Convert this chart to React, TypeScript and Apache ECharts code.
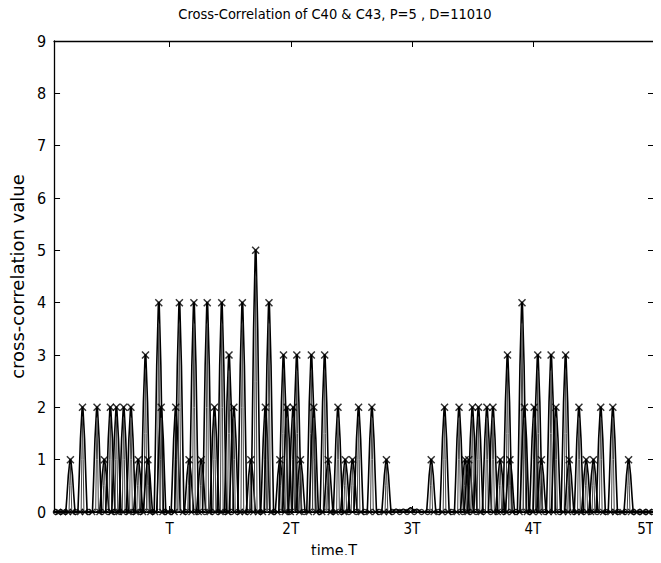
import React, { useEffect, useRef } from "react";
import * as echarts from "echarts";

const TITLE = "Cross-Correlation of C40 & C43, P=5 , D=11010";
const X_NAME = "time,T";
const Y_NAME = "cross-correlation value";
const X_MIN = 0.045;
const X_MAX = 5;
const X_TICKS = [1, 2, 3, 4, 5];
const X_TICK_LABELS = ["T", "2T", "3T", "4T", "5T"];
const Y_MIN = 0;
const Y_MAX = 9;

// [time in T, correlation value] at sample peaks (first group)
const peaksA: [number, number][] = [
  [0.18, 1], [0.28, 2], [0.4, 2], [0.46, 1], [0.51, 2], [0.56, 2], [0.62, 2], [0.68, 2],
  [0.74, 1], [0.8, 3], [0.82, 1], [0.91, 4], [0.93, 2], [1.05, 2], [1.08, 4], [1.16, 1],
  [1.2, 4], [1.26, 1], [1.31, 4], [1.37, 2], [1.43, 4], [1.49, 3], [1.53, 2], [1.6, 4],
  [1.67, 1], [1.71, 5], [1.79, 2], [1.82, 4], [1.91, 1], [1.94, 3], [1.97, 2], [2.02, 2],
  [2.05, 3], [2.08, 1], [2.17, 3], [2.19, 2], [2.28, 3], [2.31, 1], [2.39, 2], [2.45, 1],
  [2.51, 1], [2.56, 2], [2.67, 2], [2.79, 1],
];

// second group
const peaksB: [number, number][] = [
  [3.16, 1], [3.27, 2], [3.39, 2], [3.44, 1], [3.47, 1], [3.5, 2], [3.55, 2], [3.62, 2],
  [3.67, 2], [3.73, 1], [3.79, 3], [3.81, 1], [3.91, 4], [3.93, 2], [4.01, 2], [4.04, 3],
  [4.07, 1], [4.15, 3], [4.19, 2], [4.27, 3], [4.3, 1], [4.38, 2], [4.44, 1], [4.5, 1],
  [4.56, 2], [4.66, 2], [4.79, 1],
];

// tiny ripples between the groups
const smallBumps: [number, number][] = [
  [2.87, 0.05], [2.93, 0.05], [2.99, 0.08], [3.04, 0.05],
];

// zero-valued samples drawn as circles / crosses on the baseline
const zeroCircles = [
  0.06, 0.1, 0.14, 0.22, 0.33, 0.44, 0.49, 0.54, 0.59, 0.64, 0.7, 0.76, 0.86, 0.96, 1.01,
  1.13, 1.23, 1.29, 1.35, 1.4, 1.46, 1.51, 1.56, 1.64, 1.75, 1.86, 1.99, 2.11, 2.24, 2.35,
  2.42, 2.48, 2.54, 2.61, 2.73, 2.84, 2.9, 2.96, 3.02, 3.08, 3.13, 3.22, 3.33, 3.42, 3.48,
  3.53, 3.59, 3.65, 3.7, 3.76, 3.86, 3.97, 4.1, 4.22, 4.34, 4.42, 4.47, 4.53, 4.6, 4.7,
  4.76, 4.83, 4.88, 4.93, 4.98,
];
const zeroCrosses = [
  0.08, 0.12, 0.16, 0.2, 0.26, 0.3, 0.36, 0.42, 0.52, 0.58, 0.66, 0.72, 0.78, 0.84, 0.88,
  0.94, 0.99, 1.04, 1.11, 1.18, 1.24, 1.33, 1.42, 1.48, 1.58, 1.62, 1.69, 1.73, 1.77, 1.84,
  1.89, 1.95, 2.0, 2.07, 2.15, 2.21, 2.26, 2.33, 2.37, 2.44, 2.58, 2.65, 2.7, 2.77, 2.81,
  3.18, 3.25, 3.3, 3.37, 3.46, 3.57, 3.71, 3.78, 3.83, 3.89, 3.95, 4.0, 4.05, 4.13, 4.17,
  4.25, 4.29, 4.36, 4.4, 4.48, 4.58, 4.64, 4.68, 4.74, 4.81, 4.86, 4.91, 4.96,
];

const FONT_NARROW = '"Liberation Sans Narrow", "DejaVu Sans Condensed", "Liberation Sans", Arial, sans-serif';
const FONT_WIDE = '"DejaVu Sans", "Liberation Sans", Arial, sans-serif';
const CROSS = "path://M0,0L10,10M10,0L0,10";

export default function App() {
  const ref = useRef<HTMLDivElement>(null);
  useEffect(() => {
    if (!ref.current) return;
    const chart = echarts.init(ref.current, null, { renderer: "svg" });
    const spikeData = [...peaksA, ...peaksB, ...smallBumps];
    const axisLine = { show: true, onZero: false, lineStyle: { color: "#000", width: 1.3 } };
    chart.setOption({
      animation: false,
      backgroundColor: "#fff",
      title: {
        text: TITLE,
        left: 330,
        textAlign: "center",
        top: 1,
        textStyle: { fontFamily: FONT_NARROW, fontSize: 14.5, fontWeight: "normal", color: "#000" },
      },
      grid: { left: 53, right: 7, top: 41, bottom: 51 },
      xAxis: [
        {
          type: "value",
          position: "bottom",
          min: X_MIN,
          max: X_MAX,
          axisLine: { show: true, onZero: false, lineStyle: { color: "#000", width: 2 } },
          splitLine: { show: false },
          name: X_NAME,
          nameLocation: "middle",
          nameGap: 30,
          nameTextStyle: { fontFamily: FONT_NARROW, fontSize: 16, color: "#000", padding: [0, 40, 0, 0] },
          axisTick: { show: true, inside: true, length: 6, customValues: X_TICKS, lineStyle: { color: "#000" } },
          axisLabel: {
            show: true,
            customValues: X_TICKS,
            margin: 9,
            alignMaxLabel: "right",
            fontFamily: FONT_NARROW,
            fontSize: 15,
            color: "#000",
            formatter: (v: number) => X_TICK_LABELS[X_TICKS.indexOf(Math.round(v))] ?? "",
          },
        },
        {
          type: "value",
          position: "top",
          min: X_MIN,
          max: X_MAX,
          axisLine,
          splitLine: { show: false },
          axisTick: { show: true, inside: true, length: 6, customValues: X_TICKS, lineStyle: { color: "#000" } },
          axisLabel: { show: false },
        },
      ],
      yAxis: [
        {
          type: "value",
          position: "left",
          min: Y_MIN,
          max: Y_MAX,
          interval: 1,
          axisLine,
          splitLine: { show: false },
          name: Y_NAME,
          nameLocation: "middle",
          nameGap: 27,
          nameTextStyle: { fontFamily: FONT_WIDE, fontSize: 18, color: "#000" },
          axisTick: { show: true, inside: true, length: 6, lineStyle: { color: "#000" } },
          axisLabel: { show: true, margin: 8, fontFamily: FONT_NARROW, fontSize: 16, color: "#000" },
        },
        {
          type: "value",
          position: "right",
          min: Y_MIN,
          max: Y_MAX,
          interval: 1,
          axisLine,
          splitLine: { show: false },
          axisTick: { show: true, inside: true, length: 6, lineStyle: { color: "#000" } },
          axisLabel: { show: false },
        },
      ],
      series: [
        {
          type: "custom",
          name: "spikes",
          xAxisIndex: 0,
          yAxisIndex: 0,
          clip: true,
          data: spikeData,
          encode: { x: 0, y: 1 },
          renderItem: (params: any, api: any) => {
            const t = api.value(0);
            const v = api.value(1);
            const hw = 0.038;
            const outer = [
              [t - hw, 0],
              [t - 0.75 * hw, 0.3 * v],
              [t - 0.45 * hw, 0.7 * v],
              [t - 0.08 * hw, v],
              [t + 0.08 * hw, v],
              [t + 0.45 * hw, 0.7 * v],
              [t + 0.75 * hw, 0.3 * v],
              [t + hw, 0],
            ].map((p) => api.coord(p));
            const inner = [
              [t - 0.3 * hw, 0],
              [t - 0.15 * hw, 0.5 * v],
              [t, 0.9 * v],
              [t + 0.15 * hw, 0.5 * v],
              [t + 0.3 * hw, 0],
            ].map((p) => api.coord(p));
            return {
              type: "group",
              children: [
                {
                  type: "polyline",
                  shape: { points: outer },
                  style: { stroke: "#000", fill: "none", lineWidth: 1.6 },
                },
                {
                  type: "polyline",
                  shape: { points: inner },
                  style: { stroke: "#444", fill: "none", lineWidth: 1 },
                },
              ],
            };
          },
        },
        {
          type: "scatter",
          name: "peaks",
          data: [...peaksA, ...peaksB],
          symbol: CROSS,
          symbolSize: 7,
          itemStyle: { color: "transparent", borderColor: "#000", borderWidth: 1.5 },
          z: 3,
        },
        {
          type: "scatter",
          name: "zeroCircles",
          data: zeroCircles.map((t) => [t, 0]),
          symbol: "circle",
          symbolSize: 5,
          itemStyle: { color: "transparent", borderColor: "#000", borderWidth: 1.4 },
          z: 3,
        },
        {
          type: "scatter",
          name: "zeroCrosses",
          data: zeroCrosses.map((t) => [t, 0]),
          symbol: CROSS,
          symbolSize: 6,
          itemStyle: { color: "transparent", borderColor: "#000", borderWidth: 1.4 },
          z: 3,
        },
      ],
    });
    return () => chart.dispose();
  }, []);
  return <div ref={ref} style={{ width: 661, height: 563, margin: -8 }} />;
}
